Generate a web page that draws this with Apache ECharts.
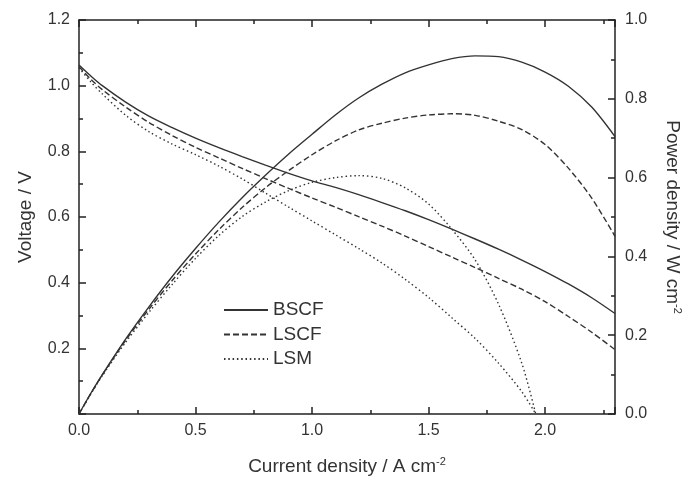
<!DOCTYPE html>
<html>
<head>
<meta charset="utf-8">
<script src="https://cdn.jsdelivr.net/npm/echarts@6/dist/echarts.min.js"></script>
<style>
html,body{margin:0;padding:0;background:#fff;}
#chart{width:687px;height:478px;}
</style>
</head>
<body>
<div id="chart"></div>
<script>
// ---- data ----
const currents = [0,0.05,0.1,0.2,0.3,0.4,0.5,0.6,0.7,0.8,0.9,1.0,1.1,1.2,1.3,1.4,1.5,1.6,1.7,1.8,1.9,2.0,2.1,2.2,2.3];
const bscfVoltage = [1.063,1.03,1.0,0.95,0.907,0.872,0.84,0.811,0.784,0.758,0.733,0.71,0.69,0.668,0.644,0.619,0.592,0.563,0.533,0.502,0.469,0.434,0.396,0.354,0.306];
const bscfPower   = [0,0.052,0.1,0.19,0.272,0.349,0.42,0.487,0.549,0.606,0.66,0.71,0.759,0.802,0.837,0.866,0.886,0.902,0.909,0.907,0.893,0.868,0.832,0.779,0.704];
const lscfVoltage = [1.058,1.02,0.988,0.935,0.888,0.848,0.812,0.78,0.748,0.717,0.687,0.658,0.63,0.601,0.572,0.542,0.51,0.478,0.446,0.413,0.38,0.342,0.297,0.249,0.196];
const lscfPower   = [0,0.051,0.099,0.187,0.266,0.339,0.406,0.468,0.524,0.574,0.618,0.658,0.693,0.721,0.738,0.751,0.759,0.762,0.758,0.743,0.722,0.684,0.624,0.548,0.451];
const lsmCurrents = [0,0.05,0.1,0.2,0.3,0.4,0.5,0.6,0.7,0.8,0.9,1.0,1.1,1.2,1.3,1.4,1.5,1.6,1.7,1.8,1.9,1.96];
const lsmVoltage  = [1.055,1.012,0.975,0.91,0.86,0.822,0.79,0.755,0.716,0.673,0.63,0.588,0.546,0.504,0.46,0.41,0.355,0.293,0.23,0.155,0.068,0.0];
const lsmPower    = [0,0.05,0.097,0.182,0.258,0.329,0.395,0.453,0.501,0.538,0.567,0.588,0.6,0.605,0.598,0.574,0.533,0.469,0.391,0.279,0.129,0.0];

const materials = ['BSCF','LSCF','LSM'];
const xTickLabels = ['0.0','0.5','1.0','1.5','2.0'];
const voltageTickLabels = ['0.2','0.4','0.6','0.8','1.0','1.2'];
const powerTickLabels = ['0.0','0.2','0.4','0.6','0.8','1.0'];

// ---- styling ----
const AXIS = '#222';
const TEXT = '#333';
const LINE = '#333';
const FONT = '"Liberation Sans", Arial, Helvetica, sans-serif';
const MAJOR = 7, MINOR = 4;

function pairs(xs, ys){ return xs.map((x,i)=>[x, ys[i]]); }
function fmt(list){ return v => { const s = (Math.round(v*100)/100).toFixed(1); return list.indexOf(s) >= 0 && Math.abs(parseFloat(s)-v) < 1e-6 ? s : ''; }; }

const dashTypes = { BSCF: 'solid', LSCF: [6,3], LSM: [1.5,2.8] };

function lineSeries(name, data, yIdx){
  return {
    name: name, type: 'line', xAxisIndex: 0, yAxisIndex: yIdx,
    data: data, symbol: 'none', smooth: 0.3,
    lineStyle: { color: LINE, width: 1.4, type: dashTypes[name] },
    itemStyle: { color: 'rgba(0,0,0,0)', borderWidth: 0 },
    emphasis: { disabled: true }
  };
}

// tick-only axis: drawn outward from an axis shifted inward by its tick length,
// so the ticks sit inside the plot frame
function tickAxis(position, min, max, interval, len){
  return {
    type: 'value', position: position, min: min, max: max, interval: interval,
    offset: -len,
    splitLine: { show: false },
    axisLine: { show: false, onZero: false },
    axisTick: { show: true, inside: false, length: len, lineStyle: { color: AXIS, width: 1.5 } },
    axisLabel: { show: false }
  };
}

const nameRich = {
  a: { fontSize: 19, color: TEXT, fontFamily: FONT },
  b: { fontSize: 11, color: TEXT, fontFamily: FONT, padding: [0,0,11,0] }
};

const option = {
  animation: false,
  backgroundColor: '#fff',
  textStyle: { fontFamily: FONT },
  grid: { left: 79, right: 72, top: 20, bottom: 64, containLabel: false, outerBoundsMode: 'none' },
  legend: {
    orient: 'vertical', left: 223, top: 300, padding: 0,
    itemWidth: 44, itemHeight: 14, itemGap: 4.5,
    data: materials,
    itemStyle: { opacity: 0, borderWidth: 0 },
    textStyle: { fontSize: 19, color: TEXT, fontFamily: FONT, lineHeight: 20 },
    selectedMode: false
  },
  xAxis: [
    {
      type: 'value', position: 'bottom', min: 0, max: 2.3, interval: 0.5,
      splitLine: { show: false },
      axisLine: { show: true, onZero: false, lineStyle: { color: AXIS, width: 1.5 } },
      axisTick: { show: false },
      axisLabel: { formatter: fmt(xTickLabels), fontSize: 16, color: TEXT, margin: 9, fontFamily: FONT },
      name: '{a|Current density / A cm}{b|-2}',
      nameLocation: 'middle', nameGap: 42,
      nameTextStyle: { rich: nameRich }
    },
    {
      type: 'value', position: 'top', min: 0, max: 2.3, interval: 0.5,
      splitLine: { show: false },
      axisLine: { show: true, onZero: false, lineStyle: { color: AXIS, width: 1.5 } },
      axisTick: { show: false },
      axisLabel: { show: false }
    },
    tickAxis('bottom', 0, 2.3, 0.5, MAJOR),
    tickAxis('bottom', 0, 2.3, 0.25, MINOR),
    tickAxis('top', 0, 2.3, 0.5, MAJOR),
    tickAxis('top', 0, 2.3, 0.25, MINOR)
  ],
  yAxis: [
    {
      type: 'value', position: 'left', min: 0, max: 1.2, interval: 0.2,
      splitLine: { show: false },
      axisLine: { show: true, onZero: false, lineStyle: { color: AXIS, width: 1.5 } },
      axisTick: { show: false },
      axisLabel: { formatter: fmt(voltageTickLabels), fontSize: 16, color: TEXT, margin: 9, fontFamily: FONT },
      name: 'Voltage / V', nameLocation: 'middle', nameGap: 44, nameRotate: 90,
      nameTextStyle: { fontSize: 19, color: TEXT, fontFamily: FONT }
    },
    {
      type: 'value', position: 'right', min: 0, max: 1.0, interval: 0.2,
      splitLine: { show: false },
      axisLine: { show: true, onZero: false, lineStyle: { color: AXIS, width: 1.5 } },
      axisTick: { show: false },
      axisLabel: { formatter: fmt(powerTickLabels), fontSize: 16, color: TEXT, margin: 10, fontFamily: FONT },
      name: '{a|Power density / W cm}{b|-2}', nameLocation: 'middle', nameGap: 46, nameRotate: -90,
      nameTextStyle: { rich: nameRich }
    },
    tickAxis('left', 0, 1.2, 0.2, MAJOR),
    tickAxis('left', 0, 1.2, 0.1, MINOR),
    tickAxis('right', 0, 1.0, 0.2, MAJOR),
    tickAxis('right', 0, 1.0, 0.1, MINOR)
  ],
  series: [
    lineSeries('BSCF', pairs(currents, bscfVoltage), 0),
    lineSeries('LSCF', pairs(currents, lscfVoltage), 0),
    lineSeries('LSM', pairs(lsmCurrents, lsmVoltage), 0),
    lineSeries('BSCF', pairs(currents, bscfPower), 1),
    lineSeries('LSCF', pairs(currents, lscfPower), 1),
    lineSeries('LSM', pairs(lsmCurrents, lsmPower), 1)
  ]
};

const chart = echarts.init(document.getElementById('chart'), null, { renderer: 'canvas' });
chart.setOption(option);
</script>
</body>
</html>
